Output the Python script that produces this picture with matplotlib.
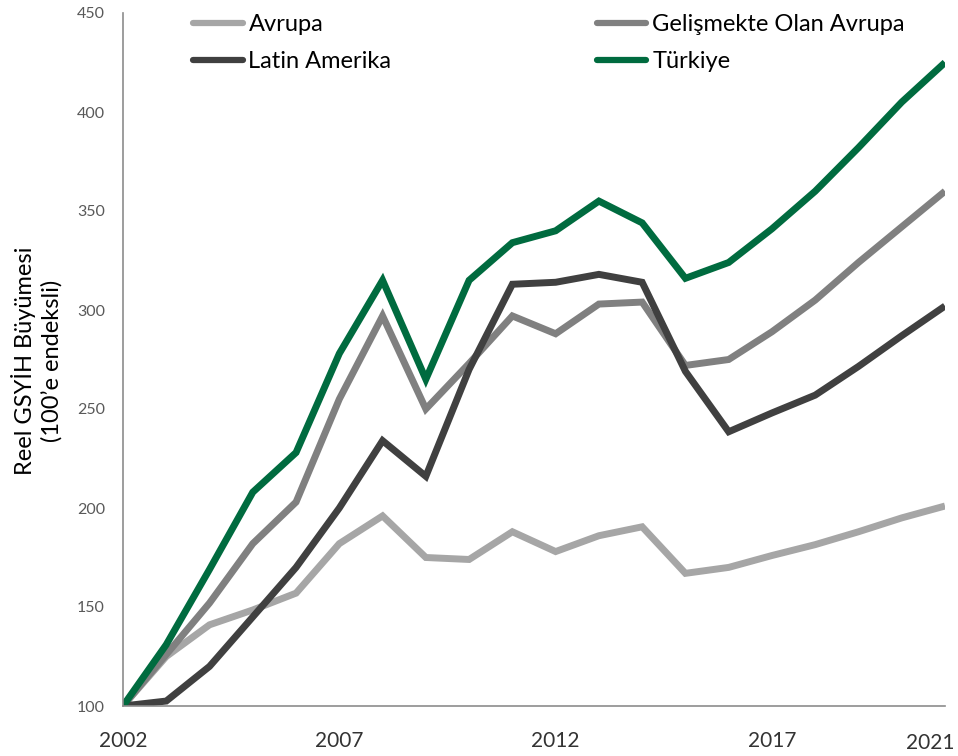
import matplotlib
matplotlib.use("Agg")
import matplotlib.pyplot as plt
import matplotlib.transforms as mtransforms
from matplotlib.lines import Line2D

plt.rcParams['font.family'] = ['Lato', 'DejaVu Sans']

years = list(range(2002, 2022))

avrupa = [100, 125, 141, 148.5, 157, 182, 196, 175, 174, 188, 178, 186, 190.5,
          167, 170, 176, 181.5, 188, 195, 201]
gelismekte_avrupa = [100, 126, 152, 182, 203, 255, 297, 250, 273, 297, 288, 303, 304,
                     272, 275, 289, 305, 324, 342, 360]
latin_amerika = [100, 102.5, 120, 145, 170, 200, 234, 216, 270, 313, 314, 318, 314,
                 269, 238.5, 248, 257, 271.5, 287, 302]
turkiye = [100, 131, 169, 208, 228, 278, 315, 265, 315, 334, 340, 355, 344,
           316, 324, 341, 360, 382, 405, 425]

series_names = ["Avrupa", "Latin Amerika", "Gelişmekte Olan Avrupa", "Türkiye"]
series_values = [avrupa, latin_amerika, gelismekte_avrupa, turkiye]
series_colors = ["#A6A6A6", "#404040", "#808080", "#006B3F"]

x_ticks = [2002, 2007, 2012, 2017, 2021]
y_ticks = [100, 150, 200, 250, 300, 350, 400, 450]

fig = plt.figure(figsize=(9.58, 7.56), dpi=100)
ax = fig.add_axes([123 / 958, 50 / 756, (945 - 123) / 958, (706 - 13) / 756])

draw_order = [0, 2, 1, 3]
for i in draw_order:
    ax.plot(years, series_values[i], color=series_colors[i], lw=5.0,
            solid_capstyle='butt', solid_joinstyle='miter')

ax.set_xlim(2002, 2021)
ax.set_ylim(100, 450)
ax.set_xticks(x_ticks)
ax.set_yticks(y_ticks)
ax.set_xticklabels([str(t) for t in x_ticks], fontsize=15, color="#333333")
ax.set_yticklabels([str(t) for t in y_ticks], fontsize=11.5, color="#595959")
ax.tick_params(axis='both', length=0)
ax.tick_params(axis='y', pad=13)
ax.tick_params(axis='x', pad=18)

# keep the last year label inside the figure edge
last = ax.get_xticklabels()[-1]
last.set_transform(last.get_transform() +
                   mtransforms.ScaledTranslation(-15 / 100, -2 / 100, fig.dpi_scale_trans))

for side in ("top", "right"):
    ax.spines[side].set_visible(False)
for side in ("left", "bottom"):
    ax.spines[side].set_color("#8C8C8C")
    ax.spines[side].set_linewidth(1.2)

fig.text(37 / 958, 1 - 361 / 756, "Reel GSYİH Büyümesi\n(100’e endeksli)",
         rotation=90, ha='center', va='center', fontsize=17, color="#000000",
         linespacing=1.3)

handles = [Line2D([0], [0], color=c, lw=4.5, solid_capstyle='round')
           for c in series_colors]
leg = ax.legend(handles, series_names, ncol=2, frameon=False,
                loc='upper left', bbox_to_anchor=(193 / 958, 1 - 14 / 756),
                bbox_transform=fig.transFigure, fontsize=17,
                handlelength=2.1, handletextpad=0.25, columnspacing=8.7,
                labelspacing=0.68, borderpad=0, borderaxespad=0)

fig.savefig("out.png", dpi=100)
